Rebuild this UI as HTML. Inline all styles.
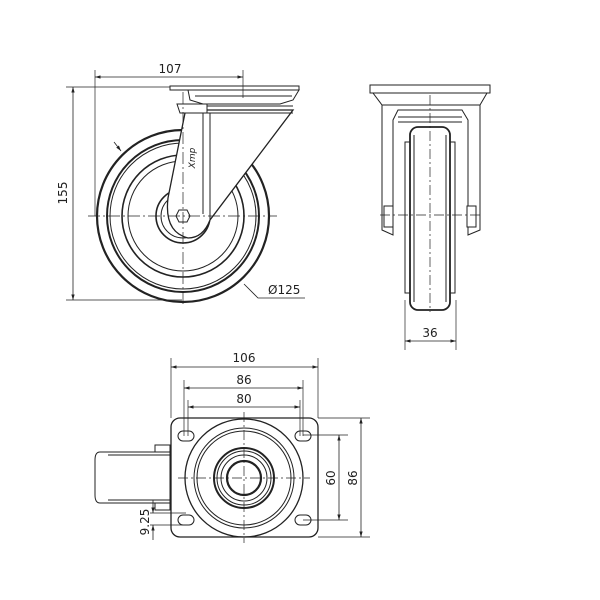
<!DOCTYPE html>
<html><head><style>body{margin:0;background:#fff}svg{display:block}text{font-family:"DejaVu Sans","Liberation Sans",sans-serif;font-size:12px;fill:#222}</style></head>
<body>
<svg width="600" height="600" viewBox="0 0 600 600" xmlns="http://www.w3.org/2000/svg">
<defs>
<marker id="a" viewBox="0 0 10 10" refX="10" refY="5" markerWidth="7" markerHeight="7" orient="auto-start-reverse"><path d="M0,2 L10,5 L0,8 z" fill="#222"/></marker>
</defs>
<g fill="none" stroke="#222" stroke-width="1">
<!-- ===== SIDE VIEW ===== -->
<circle cx="183" cy="216" r="86" stroke-width="2.2"/>
<circle cx="183" cy="216" r="76" stroke-width="2"/>
<circle cx="183" cy="216" r="73"/>
<circle cx="183" cy="216" r="61" stroke-width="1.6"/>
<circle cx="183" cy="216" r="55"/>
<circle cx="183" cy="216" r="27" stroke-width="1.6"/>
<circle cx="183" cy="216" r="22"/>
<!-- fork -->
<path d="M185,113 L168,198 Q164,232 188,238 Q203,238 210,220 L293,110 L207,110 Z" fill="#fff" stroke-width="1.3"/>
<line x1="203" y1="113" x2="203" y2="214"/>
<line x1="210" y1="113" x2="210" y2="220"/>
<path d="M177,104 L207,104 L207,113 L180,113 Z" fill="#fff"/>
<line x1="207" y1="106" x2="293" y2="106"/>
<line x1="207" y1="113" x2="293" y2="113"/>
<!-- plate -->
<path d="M188,90 L299,90 L293,100 L280,104 L203,104 L190,100 Z" fill="#fff"/>
<line x1="195" y1="96" x2="292" y2="96"/>
<rect x="170" y="86" width="129" height="4" fill="#fff"/>
<polygon points="176,216 179,210 187,210 190,216 187,222 179,222" fill="#fff"/>
<!-- centerlines -->
<line x1="88" y1="216" x2="277" y2="216" stroke-dasharray="12,3,2,3" stroke-width=".7"/>
<line x1="183" y1="92" x2="183" y2="306" stroke-dasharray="12,3,2,3" stroke-width=".7"/>
<!-- dims -->
<line x1="66" y1="87" x2="170" y2="87" stroke-width=".7"/>
<line x1="66" y1="300" x2="182" y2="300" stroke-width=".7"/>
<line x1="73" y1="87" x2="73" y2="300" stroke-width=".8" marker-start="url(#a)" marker-end="url(#a)"/>
<line x1="95" y1="70" x2="95" y2="216" stroke-width=".7"/>
<line x1="243" y1="70" x2="243" y2="98" stroke-width=".7"/>
<line x1="95" y1="77" x2="243" y2="77" stroke-width=".8" marker-start="url(#a)" marker-end="url(#a)"/>
<line x1="114" y1="142" x2="121" y2="151" stroke-width=".8" marker-end="url(#a)"/>
<polyline points="244,284 258,298 305,298" stroke-width=".8"/>
<!-- ===== FRONT VIEW ===== -->
<rect x="370" y="85" width="120" height="8"/>
<path d="M373,93 L487,93 L480,105 L382,105 Z"/>
<path d="M382,105 L382,230 L393,235 L393,120 L398,110 L462,110 L468,120 L468,235 L480,230 L480,105" />
<line x1="398" y1="117" x2="462" y2="117"/>
<line x1="398" y1="122" x2="462" y2="122"/>
<rect x="405" y="142" width="5" height="151"/>
<rect x="450" y="142" width="5" height="151"/>
<rect x="410" y="127" width="40" height="183" rx="8" stroke-width="1.8" fill="#fff"/>
<line x1="414" y1="135" x2="414" y2="302"/>
<line x1="446" y1="135" x2="446" y2="302"/>
<rect x="384" y="206" width="9" height="21" fill="#fff"/>
<rect x="467" y="206" width="9" height="21" fill="#fff"/>
<line x1="380" y1="215" x2="480" y2="215" stroke-dasharray="10,3,2,3" stroke-width=".7"/>
<line x1="430" y1="95" x2="430" y2="312" stroke-dasharray="10,3,2,3" stroke-width=".7"/>
<line x1="405" y1="300" x2="405" y2="350" stroke-width=".7"/>
<line x1="456" y1="300" x2="456" y2="350" stroke-width=".7"/>
<line x1="405" y1="341" x2="456" y2="341" stroke-width=".8" marker-start="url(#a)" marker-end="url(#a)"/>
<!-- ===== TOP VIEW ===== -->
<path d="M100,452 L170,452 L170,503 L100,503 Q95,503 95,495 L95,460 Q95,452 100,452 Z"/>
<line x1="108" y1="455" x2="170" y2="455"/>
<line x1="108" y1="500" x2="170" y2="500"/>
<rect x="155" y="445" width="15" height="7"/>
<rect x="155" y="503" width="15" height="7"/>
<rect x="171" y="418" width="147" height="119" rx="9" fill="#fff" stroke-width="1.3"/>
<circle cx="244" cy="478" r="59" stroke-width="1.3"/>
<circle cx="244" cy="478" r="50"/>
<circle cx="244" cy="478" r="47"/>
<circle cx="244" cy="478" r="30" stroke-width="2"/>
<circle cx="244" cy="478" r="27"/>
<circle cx="244" cy="478" r="23"/>
<circle cx="244" cy="478" r="17" stroke-width="2.2"/>
<rect x="178" y="431" width="16" height="10" rx="5"/>
<rect x="295" y="431" width="16" height="10" rx="5"/>
<rect x="178" y="515" width="16" height="10" rx="5"/>
<rect x="295" y="515" width="16" height="10" rx="5"/>
<line x1="244" y1="412" x2="244" y2="543" stroke-dasharray="10,3,2,3" stroke-width=".7"/>
<line x1="178" y1="478" x2="310" y2="478" stroke-dasharray="10,3,2,3" stroke-width=".7"/>
<!-- dims -->
<line x1="171" y1="358" x2="171" y2="418" stroke-width=".7"/>
<line x1="318" y1="358" x2="318" y2="418" stroke-width=".7"/>
<line x1="171" y1="367" x2="318" y2="367" stroke-width=".8" marker-start="url(#a)" marker-end="url(#a)"/>
<line x1="184" y1="380" x2="184" y2="436" stroke-width=".7"/>
<line x1="303" y1="380" x2="303" y2="436" stroke-width=".7"/>
<line x1="184" y1="388" x2="303" y2="388" stroke-width=".8" marker-start="url(#a)" marker-end="url(#a)"/>
<line x1="188" y1="400" x2="188" y2="436" stroke-width=".7"/>
<line x1="300" y1="400" x2="300" y2="436" stroke-width=".7"/>
<line x1="188" y1="407" x2="300" y2="407" stroke-width=".8" marker-start="url(#a)" marker-end="url(#a)"/>
<line x1="303" y1="435" x2="348" y2="435" stroke-width=".7"/>
<line x1="303" y1="520" x2="348" y2="520" stroke-width=".7"/>
<line x1="339" y1="435" x2="339" y2="520" stroke-width=".8" marker-start="url(#a)" marker-end="url(#a)"/>
<line x1="318" y1="418" x2="370" y2="418" stroke-width=".7"/>
<line x1="318" y1="537" x2="370" y2="537" stroke-width=".7"/>
<line x1="361" y1="418" x2="361" y2="537" stroke-width=".8" marker-start="url(#a)" marker-end="url(#a)"/>
<line x1="150" y1="513" x2="186" y2="513" stroke-width=".7"/>
<line x1="150" y1="525" x2="186" y2="525" stroke-width=".7"/>
<line x1="153" y1="500" x2="153" y2="513" stroke-width=".8" marker-end="url(#a)"/>
<line x1="153" y1="540" x2="153" y2="525" stroke-width=".8" marker-end="url(#a)"/>
</g>
<text x="170" y="73" text-anchor="middle">107</text>
<text transform="translate(67,193) rotate(-90)" text-anchor="middle">155</text>
<text x="268" y="294">Ø125</text>
<text x="430" y="337" text-anchor="middle">36</text>
<text x="244" y="362" text-anchor="middle">106</text>
<text x="244" y="384" text-anchor="middle">86</text>
<text x="244" y="403" text-anchor="middle">80</text>
<text transform="translate(335,478) rotate(-90)" text-anchor="middle">60</text>
<text transform="translate(357,478) rotate(-90)" text-anchor="middle">86</text>
<text transform="translate(149,522) rotate(-90)" text-anchor="middle">9.25</text>
<text transform="translate(195,158) rotate(-90)" text-anchor="middle" style="font-size:9px;font-style:italic">Xmp</text>
</svg>
</body></html>
